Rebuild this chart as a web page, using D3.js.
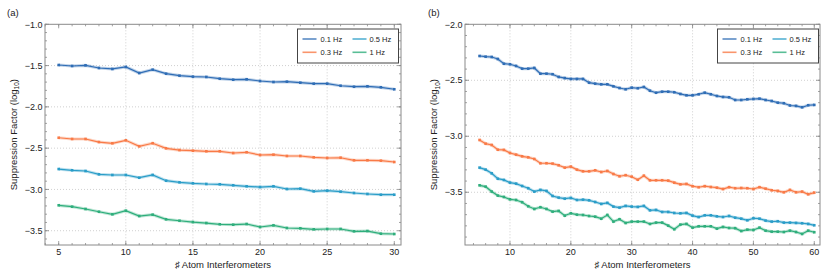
<!DOCTYPE html>
<html>
<head>
<meta charset="utf-8">
<script src="https://cdn.jsdelivr.net/npm/d3@7"></script>
<style>
body { margin: 0; background: #fff; }
text { font-family: "Liberation Sans", Arial, sans-serif; fill: #222; }
</style>
</head>
<body>
<script>
var w = 830;
var h = 276;

var seriesNames = ["0.1 Hz", "0.3 Hz", "0.5 Hz", "1 Hz"];
var colors = ["#2f6db5", "#f97a47", "#2a9dc8", "#2fae7c"];

// panel (a): 5..30 interferometers
var xA = [5, 6, 7, 8, 9, 10, 11, 12, 13, 14, 15, 16, 17, 18, 19, 20,
          21, 22, 23, 24, 25, 26, 27, 28, 29, 30];
var a01 = [-1.493, -1.505, -1.497, -1.529, -1.541, -1.517, -1.590, -1.550, -1.598, -1.622,
           -1.634, -1.638, -1.659, -1.671, -1.666, -1.687, -1.699, -1.695, -1.707, -1.719,
           -1.719, -1.744, -1.756, -1.751, -1.763, -1.787];
var a03 = [-2.374, -2.389, -2.389, -2.426, -2.441, -2.405, -2.478, -2.441, -2.502, -2.523,
           -2.531, -2.538, -2.538, -2.559, -2.550, -2.583, -2.579, -2.595, -2.595, -2.611,
           -2.619, -2.616, -2.647, -2.647, -2.652, -2.668];
var a05 = [-2.753, -2.768, -2.777, -2.817, -2.825, -2.825, -2.858, -2.825, -2.894, -2.914,
           -2.926, -2.934, -2.938, -2.950, -2.962, -2.971, -2.962, -2.995, -2.991, -3.023,
           -3.015, -3.027, -3.043, -3.055, -3.064, -3.064];
var a1 = [-3.192, -3.209, -3.237, -3.270, -3.301, -3.258, -3.322, -3.306, -3.362, -3.379,
          -3.395, -3.407, -3.422, -3.427, -3.419, -3.455, -3.435, -3.467, -3.471, -3.483,
          -3.479, -3.479, -3.507, -3.504, -3.536, -3.540];
var xTicksA = [5, 10, 15, 20, 25, 30];
var yTicksA = [-1.0, -1.5, -2.0, -2.5, -3.0, -3.5];

// panel (b): 5..60 interferometers
var xB = [5, 6, 7, 8, 9, 10, 11, 12, 13, 14, 15, 16, 17, 18, 19, 20, 21, 22, 23, 24,
          25, 26, 27, 28, 29, 30, 31, 32, 33, 34, 35, 36, 37, 38, 39, 40, 41, 42, 43, 44,
          45, 46, 47, 48, 49, 50, 51, 52, 53, 54, 55, 56, 57, 58, 59, 60];
var b01 = [-2.283, -2.289, -2.292, -2.310, -2.352, -2.357, -2.372, -2.396, -2.396, -2.390,
           -2.441, -2.441, -2.446, -2.470, -2.480, -2.488, -2.488, -2.488, -2.521, -2.530,
           -2.536, -2.536, -2.554, -2.569, -2.580, -2.566, -2.571, -2.560, -2.593, -2.611,
           -2.602, -2.602, -2.607, -2.622, -2.634, -2.634, -2.625, -2.611, -2.625, -2.640,
           -2.649, -2.652, -2.676, -2.676, -2.670, -2.667, -2.664, -2.676, -2.685, -2.700,
           -2.705, -2.725, -2.729, -2.741, -2.723, -2.720];
var b03 = [-3.033, -3.066, -3.078, -3.120, -3.122, -3.149, -3.164, -3.179, -3.188, -3.203,
           -3.241, -3.241, -3.244, -3.259, -3.280, -3.271, -3.298, -3.313, -3.313, -3.304,
           -3.319, -3.310, -3.337, -3.357, -3.348, -3.361, -3.388, -3.352, -3.393, -3.393,
           -3.393, -3.396, -3.414, -3.429, -3.426, -3.446, -3.455, -3.446, -3.453, -3.459,
           -3.471, -3.455, -3.464, -3.462, -3.464, -3.471, -3.455, -3.468, -3.482, -3.488,
           -3.500, -3.479, -3.500, -3.494, -3.518, -3.503];
var b05 = [-3.280, -3.298, -3.331, -3.379, -3.390, -3.414, -3.423, -3.444, -3.464, -3.494,
           -3.479, -3.488, -3.533, -3.548, -3.557, -3.551, -3.569, -3.566, -3.572, -3.587,
           -3.604, -3.595, -3.628, -3.637, -3.622, -3.628, -3.631, -3.622, -3.661, -3.658,
           -3.676, -3.676, -3.685, -3.688, -3.685, -3.709, -3.721, -3.706, -3.706, -3.715,
           -3.721, -3.712, -3.727, -3.736, -3.750, -3.732, -3.736, -3.753, -3.762, -3.759,
           -3.771, -3.771, -3.774, -3.777, -3.783, -3.795];
var b1 = [-3.438, -3.450, -3.494, -3.530, -3.542, -3.563, -3.569, -3.589, -3.625, -3.649,
          -3.634, -3.649, -3.673, -3.667, -3.709, -3.688, -3.700, -3.703, -3.712, -3.718,
          -3.736, -3.703, -3.762, -3.741, -3.774, -3.762, -3.762, -3.762, -3.783, -3.771,
          -3.771, -3.798, -3.830, -3.789, -3.783, -3.816, -3.804, -3.804, -3.804, -3.825,
          -3.810, -3.819, -3.821, -3.846, -3.834, -3.837, -3.816, -3.843, -3.852, -3.852,
          -3.855, -3.843, -3.855, -3.872, -3.843, -3.857];
var xTicksB = [10, 20, 30, 40, 50, 60];
var yTicksB = [-2.0, -2.5, -3.0, -3.5];

var svg = d3.select("body")
            .append("svg")
            .attr("width", w)
            .attr("height", h);

var fmt = d3.format(".1f");

function drawPanel(p) {
    var x = d3.scaleLinear().domain(p.xDomain).range([p.left, p.right]);
    var y = d3.scaleLinear().domain(p.yDomain).range([p.bottom, p.top]);
    var g = svg.append("g");

    // dotted grid at the inner major ticks
    g.selectAll(".gx")
     .data(p.gridX)
     .enter()
     .append("line")
     .attr("x1", function(d){ return x(d); })
     .attr("x2", function(d){ return x(d); })
     .attr("y1", p.top)
     .attr("y2", p.bottom)
     .attr("stroke", "#c4c4c4")
     .attr("stroke-width", 0.8)
     .attr("stroke-dasharray", "1,2");
    g.selectAll(".gy")
     .data(p.yTicks.filter(function(d){ return y(d) > p.top + 1; }))
     .enter()
     .append("line")
     .attr("x1", p.left)
     .attr("x2", p.right)
     .attr("y1", function(d){ return y(d); })
     .attr("y2", function(d){ return y(d); })
     .attr("stroke", "#c4c4c4")
     .attr("stroke-width", 0.8)
     .attr("stroke-dasharray", "1,2");

    var line = d3.line()
                 .x(function(d){ return x(d[0]); })
                 .y(function(d){ return y(d[1]); });

    p.series.forEach(function(s, i){
        var pts = p.xs.map(function(v, j){ return [v, s[j]]; });
        // soft halo under each curve
        g.append("path")
         .attr("d", line(pts))
         .attr("fill", "none")
         .attr("stroke", colors[i])
         .attr("stroke-opacity", 0.3)
         .attr("stroke-width", 3.2);
        g.append("path")
         .attr("d", line(pts))
         .attr("fill", "none")
         .attr("stroke", colors[i])
         .attr("stroke-width", 1.2);
        g.selectAll(".m" + i)
         .data(pts)
         .enter()
         .append("rect")
         .attr("x", function(d){ return x(d[0]) - 1.3; })
         .attr("y", function(d){ return y(d[1]) - 1.3; })
         .attr("width", 2.6)
         .attr("height", 2.6)
         .attr("fill", colors[i]);
    });

    // frame
    g.append("rect")
     .attr("x", p.left)
     .attr("y", p.top)
     .attr("width", p.right - p.left)
     .attr("height", p.bottom - p.top)
     .attr("fill", "none")
     .attr("stroke", "#8a8a8a")
     .attr("stroke-width", 1);

    // ticks on all four sides, pointing inward
    var xt = [];
    p.xMinor.forEach(function(d){ xt.push([d, 2]); });
    p.xTicks.forEach(function(d){ xt.push([d, 4]); });
    var yt = [];
    p.yMinor.forEach(function(d){ yt.push([d, 2]); });
    p.yTicks.forEach(function(d){ yt.push([d, 4]); });

    g.selectAll(".tx")
     .data(xt)
     .enter()
     .append("path")
     .attr("d", function(d){
         var px = x(d[0]);
         return "M" + px + "," + p.bottom + "v" + (-d[1]) +
                "M" + px + "," + p.top + "v" + d[1];
     })
     .attr("stroke", "#8a8a8a")
     .attr("stroke-width", 0.8);
    g.selectAll(".ty")
     .data(yt)
     .enter()
     .append("path")
     .attr("d", function(d){
         var py = y(d[0]);
         return "M" + p.left + "," + py + "h" + d[1] +
                "M" + p.right + "," + py + "h" + (-d[1]);
     })
     .attr("stroke", "#8a8a8a")
     .attr("stroke-width", 0.8);

    // tick labels
    g.selectAll(".lx")
     .data(p.xTicks)
     .enter()
     .append("text")
     .text(function(d){ return d; })
     .attr("x", function(d){ return x(d); })
     .attr("y", p.bottom + 9.5)
     .attr("font-size", "9px")
     .attr("text-anchor", "middle");
    g.selectAll(".ly")
     .data(p.yTicks)
     .enter()
     .append("text")
     .text(function(d){ return fmt(d); })
     .attr("x", p.left - 2.5)
     .attr("y", function(d){ return y(d) + 3.2; })
     .attr("font-size", "9px")
     .attr("text-anchor", "end");

    // axis titles
    g.append("text")
     .text("\u266F Atom Interferometers")
     .attr("x", (p.left + p.right) / 2)
     .attr("y", 268)
     .attr("font-size", "9.5px")
     .attr("text-anchor", "middle");
    var yl = g.append("text")
              .attr("transform", "translate(" + p.yLabelX + "," + ((p.top + p.bottom) / 2) + ") rotate(-90)")
              .attr("font-size", "9.5px")
              .attr("text-anchor", "middle");
    yl.append("tspan").text("Suppression Factor (log");
    yl.append("tspan").text("10").attr("font-size", "6.5px").attr("dy", 2.5);
    yl.append("tspan").text(")").attr("dy", -2.5);

    // panel letter
    g.append("text")
     .text(p.name)
     .attr("x", p.nameX)
     .attr("y", 16)
     .attr("font-size", "9.5px");

    // legend box, two columns
    var lg = g.append("g").attr("transform", "translate(" + p.legendX + ",29)");
    lg.append("rect")
      .attr("width", 101)
      .attr("height", 34)
      .attr("fill", "#fff")
      .attr("stroke", "#444")
      .attr("stroke-width", 1);
    var order = [0, 1, 2, 3];
    lg.selectAll(".it")
      .data(order)
      .enter()
      .append("line")
      .attr("x1", function(d){ return d < 2 ? 5 : 55; })
      .attr("x2", function(d){ return d < 2 ? 19 : 69; })
      .attr("y1", function(d){ return d % 2 == 0 ? 10 : 23.3; })
      .attr("y2", function(d){ return d % 2 == 0 ? 10 : 23.3; })
      .attr("stroke", function(d){ return colors[d]; })
      .attr("stroke-opacity", 0.8)
      .attr("stroke-width", 1.6);
    lg.selectAll(".lt")
      .data(order)
      .enter()
      .append("text")
      .text(function(d){ return seriesNames[d]; })
      .attr("x", function(d){ return d < 2 ? 23 : 72; })
      .attr("y", function(d){ return (d % 2 == 0 ? 10 : 23.3) + 2.7; })
      .attr("font-size", "7.5px");
}

// legend order in the picture: col 1 = 0.1, 0.3 ; col 2 = 0.5, 1
drawPanel({
    name: "(a)", nameX: 7,
    left: 45, right: 401, top: 24.3, bottom: 245,
    xDomain: [3.98, 30.5], yDomain: [-3.673, -1.0],
    xs: xA, series: [a01, a03, a05, a1],
    xTicks: xTicksA, yTicks: yTicksA,
    xMinor: d3.range(4, 31, 1), yMinor: d3.range(-36, -9, 1).map(function(d){ return d / 10; }),
    gridX: [10, 15, 20, 25],
    yLabelX: 16.5, legendX: 297.5
});

drawPanel({
    name: "(b)", nameX: 428,
    left: 465, right: 820, top: 24.3, bottom: 245,
    xDomain: [2.61, 60.94], yDomain: [-3.971, -2.0],
    xs: xB, series: [b01, b03, b05, b1],
    xTicks: xTicksB, yTicks: yTicksB,
    xMinor: d3.range(4, 61, 2), yMinor: d3.range(-39, -19, 1).map(function(d){ return d / 10; }),
    gridX: [10, 20, 30, 40, 50],
    yLabelX: 437, legendX: 717.5
});
</script>
</body>
</html>
